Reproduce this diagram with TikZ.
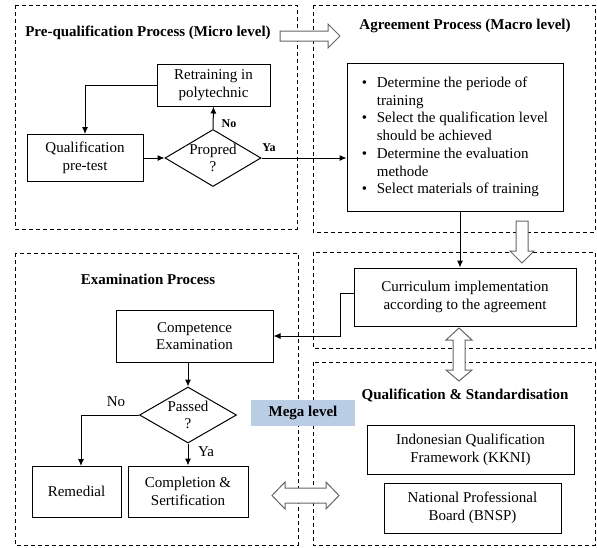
\documentclass[tikz,border=0pt]{standalone}
\usepackage{fontspec}
\setmainfont{Liberation Serif}
\usetikzlibrary{arrows.meta,shapes.geometric}
\begin{document}
\begin{tikzpicture}[x=1pt,y=-1pt,
  txt/.style={font=\fontsize{15}{17.7}\selectfont},
  region/.style={draw, dash pattern=on 4pt off 3pt, line width=0.8pt},
  box/.style={draw, line width=1pt, align=center, inner sep=0pt, txt},
  dec/.style={draw, diamond, line width=1pt, inner sep=0pt},
  arr/.style={line width=1pt, -{Latex[length=7pt,width=6pt]}},
  hollow/.style={draw=black!60, fill=white, line width=1pt, line join=miter},
  heading/.style={font=\fontsize{15}{17.7}\selectfont\bfseries},
  small/.style={font=\fontsize{12}{14}\selectfont\bfseries},
  plain/.style={txt}
]
\definecolor{megablue}{HTML}{B9CDE5}
\useasboundingbox (0,0) rectangle (597,547);

% dashed process regions
\draw[region] (15,5) rectangle (297,229);
\draw[region] (313,5) rectangle (595,232);
\draw[region] (313,252) rectangle (595,348);
\draw[region] (313,362) rectangle (595,545);
\draw[region] (15,253) rectangle (298,545);

% region headings
\node[heading] (t1) at (148,33) {Pre-qualification Process (Micro level)};
\node[heading] (t2) at (465,26) {Agreement Process (Macro level)};
\node[heading] (t3) at (148,279) {Examination Process};
\node[heading] (t4) at (465,395) {Qualification \& Standardisation};

% pre-qualification
\node[box, minimum width=113pt, minimum height=42pt] (retrain) at (213.5,85) {Retraining in\\polytechnic};
\node[box, minimum width=116pt, minimum height=47pt] (qual) at (85,158) {Qualification\\pre-test};
\node[dec, minimum width=96pt, minimum height=57pt,
      label={[txt, align=center]center:Propred\\?}] (prop) at (213,158) {};

% agreement
\node[box, minimum width=216pt, minimum height=148pt, align=left] (agree) at (455,137)
  {\makebox[15pt][l]{\textbullet}Determine the periode of\\
   \hspace*{15pt}training\\
   \makebox[15pt][l]{\textbullet}Select the qualification level\\
   \hspace*{15pt}should be achieved\\
   \makebox[15pt][l]{\textbullet}Determine the evaluation\\
   \hspace*{15pt}methode\\
   \makebox[15pt][l]{\textbullet}Select materials of training};

\node[box, minimum width=222pt, minimum height=58pt] (curr) at (465,297) {Curriculum implementation\\according to the agreement};

% examination
\node[box, minimum width=157pt, minimum height=52pt] (comp) at (194.5,336) {Competence\\Examination};
\node[dec, minimum width=97pt, minimum height=56pt,
      label={[txt, align=center]center:Passed\\?}] (pass) at (188,415) {};
\node[box, minimum width=89pt, minimum height=51pt] (rem) at (76.5,491.5) {Remedial};
\node[box, minimum width=120pt, minimum height=51pt] (compl) at (188,491.5) {Completion \&\\Sertification};

% qualification & standardisation
\node[box, minimum width=207pt, minimum height=49pt] (kkni) at (470.5,449.5) {Indonesian Qualification\\Framework (KKNI)};
\node[box, minimum width=177pt, minimum height=50pt] (bnsp) at (472.5,508) {National Professional\\Board (BNSP)};

% connectors
\draw[arr] (retrain.west) -| (qual.north);
\draw[arr] (qual.east) -- (prop.west);
\draw[arr] (prop.north) -- (retrain.south);
\draw[arr] (prop.east) -- (prop.east -| agree.west);
\node[small] (no1) at (229,124) {No};
\node[small] (ya1) at (269,148) {Ya};

\draw[arr] ([xshift=5pt]agree.south) -- ([xshift=5pt]agree.south |- curr.north);
\coordinate (bend) at (340,293);
\draw[arr] (curr.west |- bend) -- (bend) |- (comp.east);

\draw[arr] (pass.north |- comp.south) -- (pass.north);
\coordinate (remin) at (81,466);
\draw[arr] (pass.west) -| (remin);
\draw[arr] (pass.south) -- (compl.north);
\node[plain] (no2) at (116,402) {No};
\node[plain] (ya2) at (206,452) {Ya};

% hollow block arrows between the levels
\draw[hollow] (280,31) -- (328,31) -- (328,24) -- (340,36) -- (328,48) -- (328,41) -- (280,41) -- cycle;
\draw[hollow] (516,221) -- (528,221) -- (528,251) -- (534,251) -- (522,263) -- (510,251) -- (516,251) -- cycle;
\draw[hollow] (459,328) -- (472,340) -- (465,340) -- (465,370) -- (472,370) -- (459,381)
  -- (446,370) -- (453,370) -- (453,340) -- (446,340) -- cycle;
\draw[hollow] (272,495.5) -- (285,482) -- (285,488) -- (326,488) -- (326,482) -- (339,495.5)
  -- (326,509) -- (326,503) -- (285,503) -- (285,509) -- cycle;

% level tag
\node[fill=megablue, minimum width=104pt, minimum height=26pt, inner sep=0pt, heading] (mega) at (303,413) {Mega level};
\end{tikzpicture}
\end{document}
